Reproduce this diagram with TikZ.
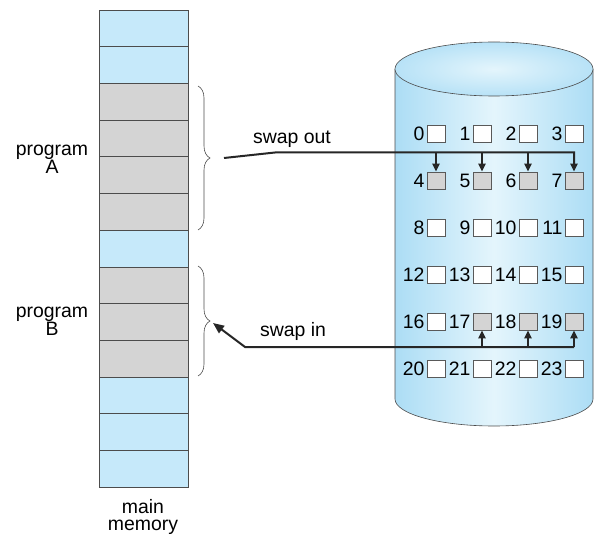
\documentclass[tikz,border=0pt]{standalone}
\usepackage{fontspec}
\setmainfont{Liberation Sans}
\usetikzlibrary{arrows.meta,decorations.pathreplacing}
\definecolor{memblue}{RGB}{198,233,250}
\definecolor{memgray}{RGB}{212,212,212}
\definecolor{diskedge}{RGB}{172,221,245}
\definecolor{diskmid}{RGB}{228,245,252}
\tikzset{
  txt/.style={font=\fontsize{19.5}{18}\selectfont, inner sep=0pt, align=center},
  blk/.style={draw=black!65, line width=0.6bp, minimum width=18bp, minimum height=17bp, inner sep=0pt},
  bus/.style={line width=2bp, black!85},
  arr/.style={bus, -{Triangle[length=8bp,width=7bp]}},
  bigarr/.style={bus, -{Triangle[length=11bp,width=9bp]}},
  brc/.style={decorate, decoration={brace, amplitude=12bp}, black!70, line width=0.6bp}
}
\begin{document}
\begin{tikzpicture}[x=1bp,y=-1bp]
        \useasboundingbox (0,0) rectangle (610,542);
        % main memory
        \foreach \c [count=\i from 0] in {memblue,memblue,memgray,memgray,memgray,memgray,memblue,memgray,memgray,memgray,memblue,memblue,memblue}
          \draw[fill=\c, draw=black!70, line width=0.6bp] (99,{10+36.7*\i}) rectangle (188,{10+36.7*(\i+1)});
        \node[txt] (progA) at (52,159) {program\\A};
        \node[txt] (progB) at (52,321) {program\\B};
        \node[txt] (mainmem) at (143,517) {main\\memory};
        \draw[brc] (198,86) -- (198,230);
        \draw[brc] (198,266) -- (198,376);
        % disk
        \shade[left color=diskedge, right color=diskedge, middle color=diskmid] (395,69) -- (395,399) arc[start angle=180, end angle=0, x radius=99, y radius=27] -- (593,69) -- cycle;
        \draw[black!70, line width=0.6bp] (395,69) -- (395,399) arc[start angle=180, end angle=0, x radius=99, y radius=27] -- (593,69);
        \shade[inner color=diskmid, outer color=diskedge!80!diskmid] (494,69) ellipse [x radius=99, y radius=27];
        \draw[black!70, line width=0.6bp] (494,69) ellipse [x radius=99, y radius=27];
        \foreach \r in {0,...,5}
          \foreach \c in {0,...,3} {
            \pgfmathtruncatemacro\n{4*\r+\c}
            \def\bc{white}
            \ifnum\n>3 \ifnum\n<8 \def\bc{memgray}\fi\fi
            \ifnum\n>16 \ifnum\n<20 \def\bc{memgray}\fi\fi
            \node[blk, fill=\bc, label={[txt, label distance=2bp]left:\n}] (b\n) at ({436+46*\c},{133.5+47*\r}) {};
          }
        % swap out
        \coordinate (outA) at (224,158);
        \coordinate (outK) at (275,152.5);
        \draw[arr] (outA) -- (outK) -- (b7.north |- outK) -- (b7.north);
        \foreach \n in {4,5,6}
          \draw[arr] (b\n.north |- outK) -- (b\n.north);
        \node[txt] (lout) at (292,139) {swap out};
        % swap in
        \coordinate (inK) at (245,347);
        \coordinate (inTip) at (213,323);
        \draw[bigarr] (b19.south |- inK) -- (inK) -- (inTip);
        \foreach \n in {17,18,19}
          \draw[arr] (b\n.south |- inK) -- (b\n.south);
        \node[txt] (lin) at (293,331) {swap in};
\end{tikzpicture}
\end{document}
